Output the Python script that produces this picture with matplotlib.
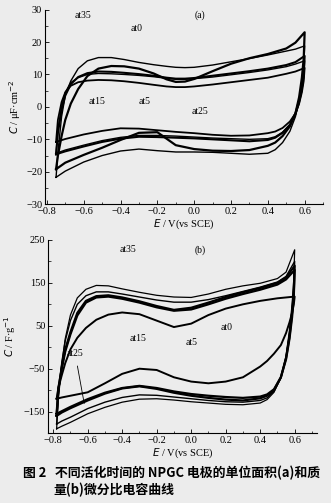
import numpy as np
import matplotlib
matplotlib.use("Agg")
import matplotlib.pyplot as plt
from matplotlib.ticker import MultipleLocator

# ---- panel (a): area-specific capacitance, uF/cm2 ----
E_up_a = [-0.75, -0.74, -0.72, -0.70, -0.67, -0.63, -0.58, -0.52, -0.45, -0.38, -0.30, -0.22,
          -0.15, -0.10, -0.05, 0.0, 0.1, 0.2, 0.3, 0.4, 0.5, 0.55, 0.6]
E_dn_a = [0.6, 0.595, 0.585, 0.57, 0.55, 0.52, 0.48, 0.44, 0.4, 0.3, 0.2, 0.1, 0.0,
          -0.1, -0.2, -0.3, -0.4, -0.5, -0.6, -0.7, -0.75]

at35_up_a = [-21.7, -14, -3, 3.5, 8, 11.8, 14.2, 15.2, 15.2, 14.6, 13.7, 13.0,
             12.5, 12.2, 12.1, 12.2, 12.9, 13.9, 14.9, 16.0, 17.2, 17.8, 18.8]
at35_dn_a = [18.8, 12, 7, 2, -3, -7.5, -11, -13.2, -14.3, -14.6, -14.3, -14.0, -13.9,
             -13.9, -13.5, -13.0, -13.6, -15.0, -17.0, -19.8, -21.7]
at25_up_a = [-19.2, -15, -9, -4, 1, 5.5, 9.5, 11.8, 12.6, 12.5, 11.8, 10.3,
             8.5, 7.7, 7.8, 8.6, 11.0, 13.3, 15.0, 16.3, 18.0, 19.8, 23.0]
at25_dn_a = [23.0, 15, 9, 3, -2, -6, -9, -11, -12, -13.3, -13.6, -13.5, -13.0,
             -11.8, -7.8, -8.0, -10.2, -12.6, -14.8, -17.2, -19.2]
at15_up_a = [-14.6, -8, -1, 3.5, 7, 9.2, 10.4, 10.9, 10.8, 10.5, 10.1, 9.6,
             9.0, 8.7, 8.7, 8.9, 9.6, 10.3, 11.0, 11.8, 12.9, 13.8, 15.7]
at15_dn_a = [15.7, 10, 6, 2, -2, -5.5, -8, -9.5, -10.2, -10.6, -10.3, -10.0, -9.7,
             -9.5, -9.3, -9.2, -9.8, -10.8, -12.2, -13.7, -14.6]
at5_up_a = [-14.3, -7, 0, 4.5, 7.5, 9.0, 10.0, 10.3, 10.2, 10.0, 9.7, 9.3,
            8.8, 8.5, 8.5, 8.7, 9.2, 9.9, 10.6, 11.4, 12.4, 13.2, 14.2]
at5_dn_a = [14.2, 9, 5, 1, -2.5, -5.5, -7.8, -9.2, -9.8, -10.0, -9.8, -9.6, -9.3,
            -9.0, -8.8, -8.8, -9.4, -10.4, -11.8, -13.3, -14.3]
at0_up_a = [-10.8, -4, 1.5, 4.5, 6.5, 7.6, 8.1, 8.3, 8.2, 7.9, 7.4, 6.8,
            6.3, 6.1, 6.1, 6.3, 6.9, 7.6, 8.3, 9.0, 10.2, 10.9, 12.0]
at0_dn_a = [12.0, 8, 4.5, 1, -2, -4.5, -6.5, -7.6, -8.1, -8.8, -8.9, -8.6, -8.1,
            -7.7, -7.2, -6.7, -6.6, -7.4, -8.5, -9.9, -10.8]

# ---- panel (b): mass-specific capacitance, F/g ----
E_up_b = [-0.78, -0.77, -0.75, -0.73, -0.70, -0.66, -0.61, -0.55, -0.48, -0.40, -0.30,
          -0.20, -0.10, 0.0, 0.1, 0.2, 0.3, 0.4, 0.5, 0.55, 0.6]
E_dn_b = [0.6, 0.595, 0.585, 0.57, 0.55, 0.52, 0.48, 0.44, 0.4, 0.3, 0.2, 0.1, 0.0,
          -0.1, -0.2, -0.3, -0.4, -0.5, -0.6, -0.7, -0.75, -0.78]

at35_up_b = [-190, -120, -40, 20, 75, 115, 135, 144, 143, 136, 128,
             121, 117, 116, 124, 135, 143, 149, 160, 175, 227]
at35_dn_b = [227, 160, 100, 40, -20, -70, -105, -122, -130, -134, -133, -130, -127,
             -123, -120, -121, -128, -140, -155, -175, -184, -190]
at25_up_b = [-179, -110, -35, 15, 62, 100, 120, 129, 129, 124, 117,
             110, 105, 105, 111, 120, 130, 140, 152, 165, 200]
at25_dn_b = [200, 140, 85, 30, -25, -72, -103, -118, -124, -128, -127, -124, -120,
             -116, -112, -111, -117, -128, -143, -163, -172, -179]
at15_up_b = [-160, -100, -45, -5, 35, 80, 108, 119, 121, 116, 107,
             96, 87, 92, 104, 117, 128, 138, 150, 162, 190]
at15_dn_b = [190, 130, 80, 25, -25, -70, -100, -113, -119, -124, -122, -118, -113,
             -106, -97, -91, -96, -108, -124, -142, -152, -160]
at5_up_b = [-155, -95, -50, -10, 30, 74, 104, 116, 118, 113, 104,
            93, 85, 88, 100, 113, 124, 134, 146, 158, 180]
at5_dn_b = [180, 120, 70, 20, -28, -70, -98, -110, -115, -118, -116, -113, -109,
            -103, -95, -90, -95, -106, -121, -139, -149, -155]
at0_up_b = [-120, -95, -65, -37, -5, 22, 45, 64, 76, 81, 77,
            62, 47, 55, 75, 90, 100, 108, 114, 116, 118]
at0_dn_b = [118, 100, 80, 58, 33, 5, -15, -32, -45, -70, -80, -84, -80,
            -70, -53, -50, -62, -84, -105, -113, -117, -120]

bg = "#ececec"
plt.rcParams["font.family"] = "Liberation Serif"

fig = plt.figure(figsize=(3.31, 5.03), dpi=100, facecolor=bg)


def loop(ax, up, dn, e_up, e_dn, lw):
    ax.plot(list(e_up) + list(e_dn), list(up) + list(dn), color="black", lw=lw)


def style(ax):
    ax.set_facecolor(bg)
    for s in ["top", "right"]:
        ax.spines[s].set_visible(False)
    ax.tick_params(direction="in", labelsize=7.5, length=3, width=0.6, pad=2)
    ax.tick_params(which="minor", direction="in", length=1.8, width=0.5)
    ax.xaxis.set_major_locator(MultipleLocator(0.2))
    ax.xaxis.set_minor_locator(MultipleLocator(0.1))
    ax.set_xlabel("$\\it{E}$ / V(vs SCE)", fontsize=7.5, labelpad=1)


# panel (a)
ax1 = fig.add_axes([0.136, 0.594, 0.840, 0.387])
style(ax1)
loop(ax1, at35_up_a, at35_dn_a, E_up_a, E_dn_a, 1.0)
loop(ax1, at25_up_a, at25_dn_a, E_up_a, E_dn_a, 1.6)
loop(ax1, at15_up_a, at15_dn_a, E_up_a, E_dn_a, 1.5)
loop(ax1, at5_up_a, at5_dn_a, E_up_a, E_dn_a, 1.0)
loop(ax1, at0_up_a, at0_dn_a, E_up_a, E_dn_a, 1.3)
ax1.set_xlim(-0.81, 0.7)
ax1.set_ylim(-30, 30)
ax1.yaxis.set_major_locator(MultipleLocator(10))
ax1.yaxis.set_minor_locator(MultipleLocator(5))
ax1.set_ylabel("$\\it{C}$ / μF·cm$^{-2}$", fontsize=7.5, labelpad=2)
for txt, x, y in [("at35", -0.606, 28.2), ("(a)", 0.03, 28.2), ("at0", -0.312, 24.2),
                  ("at15", -0.529, 1.8), ("at5", -0.268, 1.8), ("at25", 0.03, -1.3)]:
    ax1.text(x, y, txt, fontsize=7, ha="center", va="center")

# panel (b)
ax2 = fig.add_axes([0.145, 0.139, 0.813, 0.384])
style(ax2)
loop(ax2, at35_up_b, at35_dn_b, E_up_b, E_dn_b, 0.9)
loop(ax2, at25_up_b, at25_dn_b, E_up_b, E_dn_b, 1.0)
loop(ax2, at15_up_b, at15_dn_b, E_up_b, E_dn_b, 1.6)
loop(ax2, at5_up_b, at5_dn_b, E_up_b, E_dn_b, 1.6)
loop(ax2, at0_up_b, at0_dn_b, E_up_b, E_dn_b, 1.4)
ax2.set_xlim(-0.83, 0.73)
ax2.set_ylim(-200, 250)
ax2.set_yticks([250, 150, 50, -50, -150])
ax2.yaxis.set_minor_locator(MultipleLocator(50))
ax2.set_ylabel("$\\it{C}$ / F·g$^{-1}$", fontsize=7.5, labelpad=4)
for txt, x, y in [("at35", -0.366, 226.6), ("(b)", 0.05, 226.6), ("at0", 0.206, 46.5),
                  ("at15", -0.308, 20.8), ("at5", 0.004, 11.4)]:
    ax2.text(x, y, txt, fontsize=7, ha="center", va="center")
ax2.annotate("at25", xy=(-0.62, -131), xytext=(-0.673, -14), fontsize=7,
             ha="center", va="center",
             arrowprops=dict(arrowstyle="-", color="black", lw=0.6, shrinkA=4, shrinkB=0))

# caption
cap = ["Noto Sans CJK SC", "DejaVu Sans"]
fig.text(0.07, 0.060, "图 2   不同活化时间的 NPGC 电极的单位面积(a)和质",
         family=cap, fontsize=9.3, fontweight="bold", va="center")
fig.text(0.16, 0.026, "量(b)微分比电容曲线",
         family=cap, fontsize=9.3, fontweight="bold", va="center")

fig.savefig("out.png", dpi=100, facecolor=bg)
